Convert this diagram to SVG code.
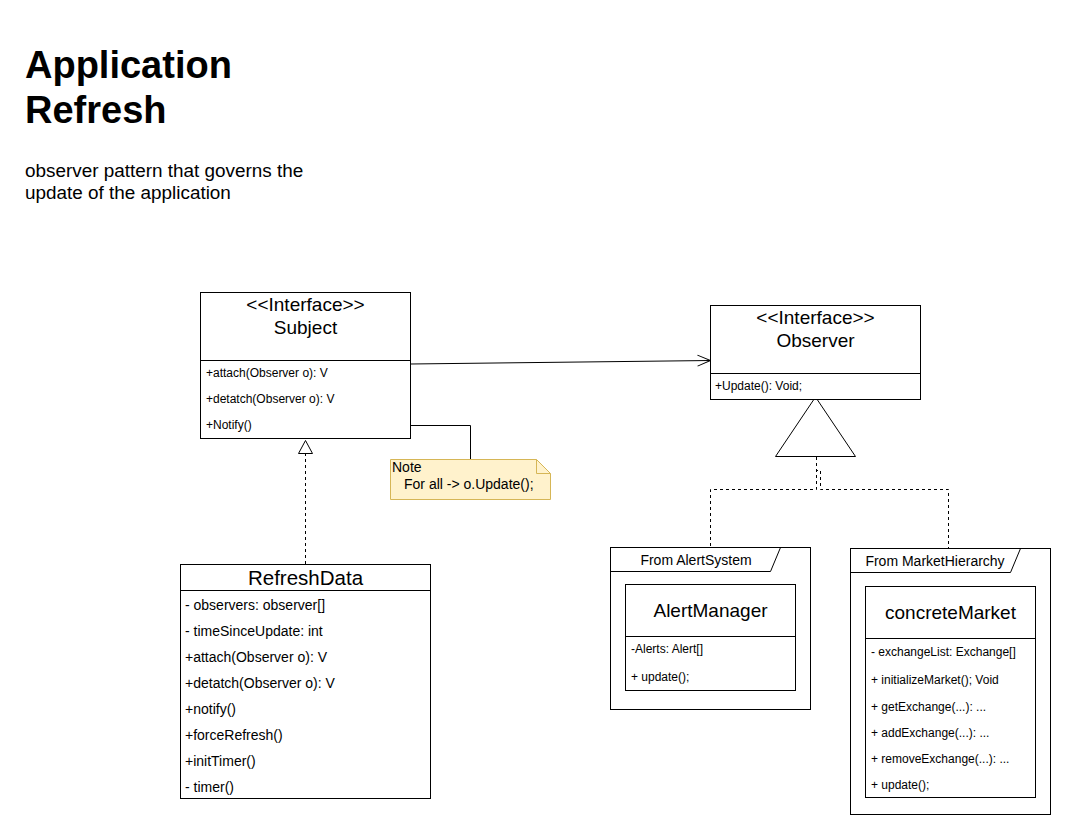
<svg xmlns="http://www.w3.org/2000/svg" width="1071" height="835" viewBox="0 0 1071 835">
<style>
text{font-family:"Liberation Sans",Arial,sans-serif;fill:#000}
.box{fill:#fff;stroke:#000;stroke-width:1}
.ln{fill:none;stroke:#000;stroke-width:1}
.dash{fill:none;stroke:#000;stroke-width:1;stroke-dasharray:3,3}
.t19{font-size:19px;text-anchor:middle}
.t20{font-size:20.5px;text-anchor:middle}
.s12{font-size:12px}
.s14{font-size:14px}
</style>
<defs>
<marker id="open" markerWidth="16" markerHeight="14" refX="14" refY="7" orient="auto" markerUnits="userSpaceOnUse">
<path d="M1,1.5 L14,7 L1,12.5" fill="none" stroke="#000" stroke-width="1"/>
</marker>
</defs>
<rect width="1071" height="835" fill="#fff"/>
<g id="title">
<text x="25" y="78" style="font-size:38px;font-weight:bold">Application</text>
<text x="25" y="123" style="font-size:38px;font-weight:bold">Refresh</text>
<text x="25" y="177" style="font-size:18.9px">observer pattern that governs the</text>
<text x="25" y="199" style="font-size:18.9px">update of the application</text>
</g>
<g id="connectors">
<line class="ln" x1="410.5" y1="364" x2="710.5" y2="360.5" marker-end="url(#open)"/>
<polyline class="ln" points="410.5,425.5 470.5,425.5 470.5,459"/>
<line class="dash" x1="305.5" y1="564" x2="305.5" y2="453"/>
<polygon points="305.5,440.5 298.5,453.5 312.5,453.5" fill="#fff" stroke="#000" stroke-width="1"/>
<polyline class="dash" points="816.5,457 816.5,489.5 710.5,489.5 710.5,547"/>
<polyline class="dash" points="816.5,457 816.5,470.5 820.5,470.5 820.5,489.5 948.5,489.5 948.5,548"/>
<polygon points="815.5,397 775.5,456.5 855.5,456.5" fill="#fff" stroke="#000" stroke-width="1"/>
</g>
<g id="subject">
<rect class="box" x="200.5" y="292.5" width="210" height="146"/>
<line class="ln" x1="200.5" y1="360.5" x2="410.5" y2="360.5"/>
<text class="t19" x="305.5" y="311">&lt;&lt;Interface&gt;&gt;</text>
<text class="t19" x="305.5" y="334">Subject</text>
<text class="s12" x="206" y="377">+attach(Observer o): V</text>
<text class="s12" x="206" y="403">+detatch(Observer o): V</text>
<text class="s12" x="206" y="429">+Notify()</text>
</g>
<g id="observer">
<rect class="box" x="710.5" y="305.5" width="210" height="94"/>
<line class="ln" x1="710.5" y1="373.5" x2="920.5" y2="373.5"/>
<text class="t19" x="815.5" y="324">&lt;&lt;Interface&gt;&gt;</text>
<text class="t19" x="815.5" y="347">Observer</text>
<text class="s12" x="715" y="390">+Update(): Void;</text>
</g>
<g id="note">
<path d="M390.5,459.5 L536.5,459.5 L550.5,473.5 L550.5,499.5 L390.5,499.5 Z" fill="#fff2cc" stroke="#d6b656" stroke-width="1"/>
<path d="M536.5,459.5 L536.5,473.5 L550.5,473.5" fill="none" stroke="#d6b656" stroke-width="1"/>
<text class="s14" x="392" y="472">Note</text>
<text class="s14" x="404" y="489">For all -&gt; o.Update();</text>
</g>
<g id="refreshdata">
<rect class="box" x="180.5" y="564.5" width="250" height="234"/>
<line class="ln" x1="180.5" y1="590.5" x2="430.5" y2="590.5"/>
<text class="t20" x="305.5" y="585">RefreshData</text>
<text class="s14" x="185" y="610">- observers: observer[]</text>
<text class="s14" x="185" y="636">- timeSinceUpdate: int</text>
<text class="s14" x="185" y="662">+attach(Observer o): V</text>
<text class="s14" x="185" y="688">+detatch(Observer o): V</text>
<text class="s14" x="185" y="714">+notify()</text>
<text class="s14" x="185" y="740">+forceRefresh()</text>
<text class="s14" x="185" y="766">+initTimer()</text>
<text class="s14" x="185" y="792">- timer()</text>
</g>
<g id="alertsystem">
<rect class="box" x="610.5" y="547.5" width="200" height="162"/>
<path class="ln" d="M610.5,571.5 L770.5,571.5 L780.5,547.5"/>
<text class="s14" x="696" y="565" text-anchor="middle">From AlertSystem</text>
</g>
<g id="alertmanager">
<rect class="box" x="625.5" y="584.5" width="170" height="106"/>
<line class="ln" x1="625.5" y1="636.5" x2="795.5" y2="636.5"/>
<text class="t19" x="710.5" y="617">AlertManager</text>
<text class="s12" x="631" y="653">-Alerts: Alert[]</text>
<text class="s12" x="631" y="681">+ update();</text>
</g>
<g id="markethierarchy">
<rect class="box" x="850.5" y="548.5" width="200" height="266" stroke="#333"/>
<path class="ln" d="M850.5,572.5 L1010.5,572.5 L1020.5,548.5" stroke="#333"/>
<text class="s14" x="935" y="566" text-anchor="middle">From MarketHierarchy</text>
</g>
<g id="concretemarket">
<rect class="box" x="865.5" y="586.5" width="170" height="211" stroke="#333"/>
<line class="ln" x1="865.5" y1="638.5" x2="1035.5" y2="638.5" stroke="#333"/>
<text class="t19" x="950.5" y="619">concreteMarket</text>
<text class="s12" x="871" y="656">- exchangeList: Exchange[]</text>
<text class="s12" x="871" y="684">+ initializeMarket(); Void</text>
<text class="s12" x="871" y="711">+ getExchange(...): ...</text>
<text class="s12" x="871" y="737">+ addExchange(...): ...</text>
<text class="s12" x="871" y="763">+ removeExchange(...): ...</text>
<text class="s12" x="871" y="789">+ update();</text>
</g>
</svg>
